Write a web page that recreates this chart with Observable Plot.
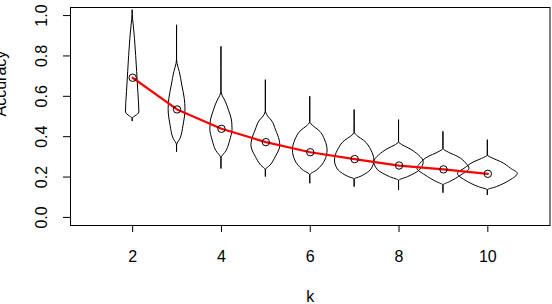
<!DOCTYPE html>
<html>
<head>
<meta charset="utf-8">
<script src="https://cdn.jsdelivr.net/npm/d3@7"></script>
<script src="https://cdn.jsdelivr.net/npm/@observablehq/plot@0.6"></script>
<style>
  html, body { margin: 0; padding: 0; background: #fff; }
  #chart svg { display: block; }
</style>
</head>
<body>
<div id="chart"></div>
<script>
// Number of clusters k and the mean accuracy at each k
const ks = [2, 3, 4, 5, 6, 7, 8, 9, 10];
const meanAccuracy = [0.692, 0.535, 0.439, 0.373, 0.323, 0.289, 0.257, 0.238, 0.216];

// Violin outlines: [accuracy, half-width in k units], top to bottom
const violin2 = [[1.025, 0], [0.98, 0.01], [0.95, 0.025], [0.885, 0.052], [0.80, 0.079], [0.72, 0.101], [0.62, 0.128], [0.52, 0.151], [0.51, 0.12], [0.50, 0.06], [0.489, 0], [0.475, 0]];
const violin3 = [[0.95, 0], [0.786, 0], [0.76, 0.012], [0.72, 0.061], [0.653, 0.119], [0.588, 0.173], [0.535, 0.19], [0.455, 0.146], [0.39, 0.079], [0.356, 0], [0.323, 0]];
const violin4 = [[0.843, 0], [0.629, 0], [0.60, 0.03], [0.579, 0.083], [0.53, 0.169], [0.47, 0.243], [0.435, 0.25], [0.381, 0.198], [0.33, 0.119], [0.29, 0], [0.24, 0]];
const violin5 = [[0.678, 0], [0.53, 0], [0.50, 0.05], [0.48, 0.131], [0.43, 0.232], [0.381, 0.311], [0.355, 0.325], [0.299, 0.225], [0.257, 0.106], [0.233, 0], [0.2, 0]];
const violin6 = [[0.596, 0], [0.472, 0], [0.45, 0.08], [0.43, 0.198], [0.381, 0.338], [0.332, 0.39], [0.282, 0.338], [0.233, 0.158], [0.208, 0], [0.167, 0]];
const violin7 = [[0.53, 0], [0.422, 0], [0.40, 0.08], [0.381, 0.207], [0.332, 0.376], [0.282, 0.443], [0.243, 0.394], [0.2, 0.131], [0.188, 0], [0.15, 0]];
const violin8 = [[0.48, 0], [0.373, 0], [0.355, 0.1], [0.34, 0.236], [0.307, 0.45], [0.274, 0.556], [0.233, 0.468], [0.2, 0.207], [0.18, 0], [0.134, 0]];
const violin9 = [[0.422, 0], [0.34, 0], [0.32, 0.13], [0.299, 0.338], [0.266, 0.518], [0.241, 0.585], [0.208, 0.405], [0.175, 0.151], [0.158, 0], [0.12, 0]];
const violin10 = [[0.381, 0], [0.307, 0], [0.29, 0.13], [0.274, 0.3], [0.241, 0.525], [0.216, 0.675], [0.183, 0.507], [0.15, 0.203], [0.134, 0], [0.109, 0]];
const violins = [violin2, violin3, violin4, violin5, violin6, violin7, violin8, violin9, violin10];

// Axis ticks and titles
const xTicks = [2, 4, 6, 8, 10];
const yTicks = [0, 0.2, 0.4, 0.6, 0.8, 1.0];
const xTitle = "k";
const yTitle = "Accuracy";

// Flatten the outlines into rows the area mark can draw
const violinRows = violins.flatMap((outline, i) =>
  outline.map(([v, w]) => ({k: ks[i], v, lo: ks[i] - w, hi: ks[i] + w}))
);
const meanRows = ks.map((k, i) => ({k, mean: meanAccuracy[i]}));

const font = "'Liberation Sans', Arial, Helvetica, sans-serif";

const chart = Plot.plot({
  width: 552,
  height: 304,
  marginLeft: 70,
  marginRight: 2.5,
  marginTop: 7,
  marginBottom: 79,
  style: {fontFamily: font, fontSize: "16px", color: "#000", background: "#fff"},
  x: {domain: [0.6, 11.4], label: null},
  y: {domain: [-0.04, 1.04], label: null},
  marks: [
    Plot.areaX(violinRows, {
      y: "v", x1: "lo", x2: "hi", z: "k",
      curve: "monotone-y", fill: "none", stroke: "#000", strokeWidth: 1
    }),
    Plot.line(meanRows, {x: "k", y: "mean", stroke: "#ff0000", strokeWidth: 2.2}),
    Plot.dot(meanRows, {x: "k", y: "mean", r: 3.7, stroke: "#000", strokeWidth: 1, fill: "none"}),
    Plot.frame({stroke: "#000", strokeWidth: 1}),
    Plot.axisX({ticks: xTicks, tickSize: 7, tickFormat: () => "", label: null}),
    Plot.axisY({ticks: yTicks, tickSize: 7, tickFormat: () => "", label: null}),
    Plot.text(xTicks, {
      x: (d) => d, text: (d) => String(d),
      frameAnchor: "bottom", dy: 31.6, lineAnchor: "middle", textAnchor: "middle", fontSize: 16
    }),
    Plot.text(yTicks, {
      y: (d) => d, text: d3.format(".1f"),
      frameAnchor: "left", dx: -28.4, rotate: -90, lineAnchor: "middle", textAnchor: "middle", fontSize: 16
    }),
    Plot.text([xTitle], {
      text: (d) => d, frameAnchor: "bottom", dy: 71.6, lineAnchor: "middle", fontSize: 16
    }),
    Plot.text([yTitle], {
      text: (d) => d, frameAnchor: "left", dx: -70, rotate: -90, lineAnchor: "middle", fontSize: 16
    })
  ]
});

document.getElementById("chart").appendChild(chart);
</script>
</body>
</html>
